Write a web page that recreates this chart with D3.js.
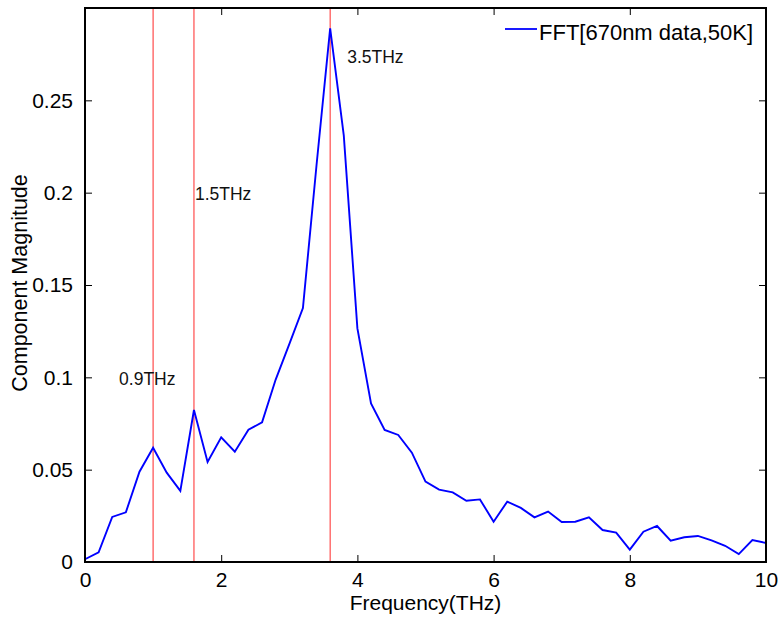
<!DOCTYPE html>
<html>
<head>
<meta charset="utf-8">
<script src="https://cdn.jsdelivr.net/npm/d3@7"></script>
<style>
  html, body { margin: 0; padding: 0; background: #fff; }
  svg { display: block; font-family: "Liberation Sans", Arial, Helvetica, sans-serif; }
</style>
</head>
<body>
<svg id="chart" width="780" height="618"></svg>
<script>
// ---- data ----
const frequencies = [0.0,0.2,0.4,0.6,0.8,1.0,1.2,1.4,1.6,1.8,2.0,2.2,2.4,2.6,2.8,3.0,3.2,3.4,3.6,3.8,
  4.0,4.2,4.4,4.6,4.8,5.0,5.2,5.4,5.6,5.8,6.0,6.2,6.4,6.6,6.8,7.0,7.2,7.4,7.6,7.8,
  8.0,8.2,8.4,8.6,8.8,9.0,9.2,9.4,9.6,9.8,10.0];
const magnitudes = [0.0015,0.0052,0.0244,0.0269,0.0489,0.0619,0.0484,0.0385,0.0823,0.0542,0.0675,0.0597,0.0716,0.0756,0.0988,0.1180,0.1375,0.2150,0.2890,0.2310,
  0.1265,0.0859,0.0715,0.0688,0.0592,0.0435,0.0392,0.0377,0.0332,0.0339,0.0218,0.0327,0.0293,0.0242,0.0273,0.0217,0.0218,0.0242,0.0173,0.0159,
  0.0067,0.0164,0.0195,0.0115,0.0134,0.0141,0.0117,0.0088,0.0043,0.0119,0.0103];
const seriesName = "FFT[670nm data,50K]";
const markerFreqs = [1.0, 1.6, 3.6];
const markerLabels = ["0.9THz", "1.5THz", "3.5THz"];
const markerLabelY = [0.096, 0.196, 0.270];
const markerLabelDx = [-34, 1, 17];
const xTicks = [0, 2, 4, 6, 8, 10];
const yTicks = [0, 0.05, 0.1, 0.15, 0.2, 0.25];
const yTickLabels = ["0", "0.05", "0.1", "0.15", "0.2", "0.25"];
const xLabel = "Frequency(THz)";
const yLabel = "Component Magnitude";

// ---- layout ----
const svg = d3.select("#chart");
const L = 85, R = 766, T = 8, B = 562;
const x = d3.scaleLinear().domain([0, 10]).range([L, R]);
const y = d3.scaleLinear().domain([0, 0.3]).range([B, T]);
const tickLen = 7;

// red marker lines
svg.append("g").selectAll("line").data(markerFreqs).join("line")
  .attr("x1", d => x(d)).attr("x2", d => x(d))
  .attr("y1", B).attr("y2", T)
  .attr("stroke", "#ff1a1a").attr("stroke-width", 1.1).attr("opacity", 0.85);

// data line
svg.append("path")
  .datum(frequencies.map((f, i) => [f, magnitudes[i]]))
  .attr("fill", "none").attr("stroke", "#0000ff").attr("stroke-width", 1.9)
  .attr("stroke-linejoin", "miter")
  .attr("d", d3.line().x(d => x(d[0])).y(d => y(d[1])));

// axes (inward ticks on all sides)
const axisStyle = g => {
  g.select(".domain").remove();
  g.selectAll(".tick line").attr("stroke", "#000").attr("stroke-width", 1);
  g.selectAll(".tick text").attr("fill", "#000").style("font-size", "21px")
    .style("font-family", '"Liberation Sans", Arial, Helvetica, sans-serif');
};
svg.append("g").attr("transform", `translate(0,${B})`)
  .call(d3.axisBottom(x).tickValues(xTicks).tickFormat(d3.format("d")).tickSizeInner(-tickLen).tickSizeOuter(0).tickPadding(10))
  .call(axisStyle);
svg.append("g").attr("transform", `translate(0,${T})`)
  .call(d3.axisTop(x).tickValues(xTicks).tickFormat("").tickSizeInner(-tickLen).tickSizeOuter(0))
  .call(axisStyle);
svg.append("g").attr("transform", `translate(${L},0)`)
  .call(d3.axisLeft(y).tickValues(yTicks).tickFormat((d, i) => yTickLabels[i]).tickSizeInner(-tickLen).tickSizeOuter(0).tickPadding(12))
  .call(axisStyle);
svg.append("g").attr("transform", `translate(${R},0)`)
  .call(d3.axisRight(y).tickValues(yTicks).tickFormat("").tickSizeInner(-tickLen).tickSizeOuter(0))
  .call(axisStyle);

// frame
svg.append("rect").attr("x", L).attr("y", T).attr("width", R - L).attr("height", B - T)
  .attr("fill", "none").attr("stroke", "#000").attr("stroke-width", 2);

// marker labels
svg.append("g").selectAll("text").data(markerLabels).join("text")
  .attr("x", (d, i) => x(markerFreqs[i]) + markerLabelDx[i])
  .attr("y", (d, i) => y(markerLabelY[i]))
  .attr("font-size", 17.5).attr("fill", "#111").text(d => d);

// axis titles
svg.append("text").attr("x", (L + R) / 2).attr("y", 610).attr("text-anchor", "middle")
  .attr("font-size", 21).attr("fill", "#000").text(xLabel);
svg.append("text").attr("transform", "translate(27,283) rotate(-90)").attr("text-anchor", "middle")
  .attr("font-size", 21.5).attr("fill", "#000").text(yLabel);

// legend
const lg = svg.append("g");
lg.append("line").attr("x1", 505).attr("x2", 537).attr("y1", 29).attr("y2", 29)
  .attr("stroke", "#0000ff").attr("stroke-width", 1.8);
lg.append("text").attr("x", 539).attr("y", 40).attr("font-size", 22).attr("fill", "#000").text(seriesName);
</script>
</body>
</html>
